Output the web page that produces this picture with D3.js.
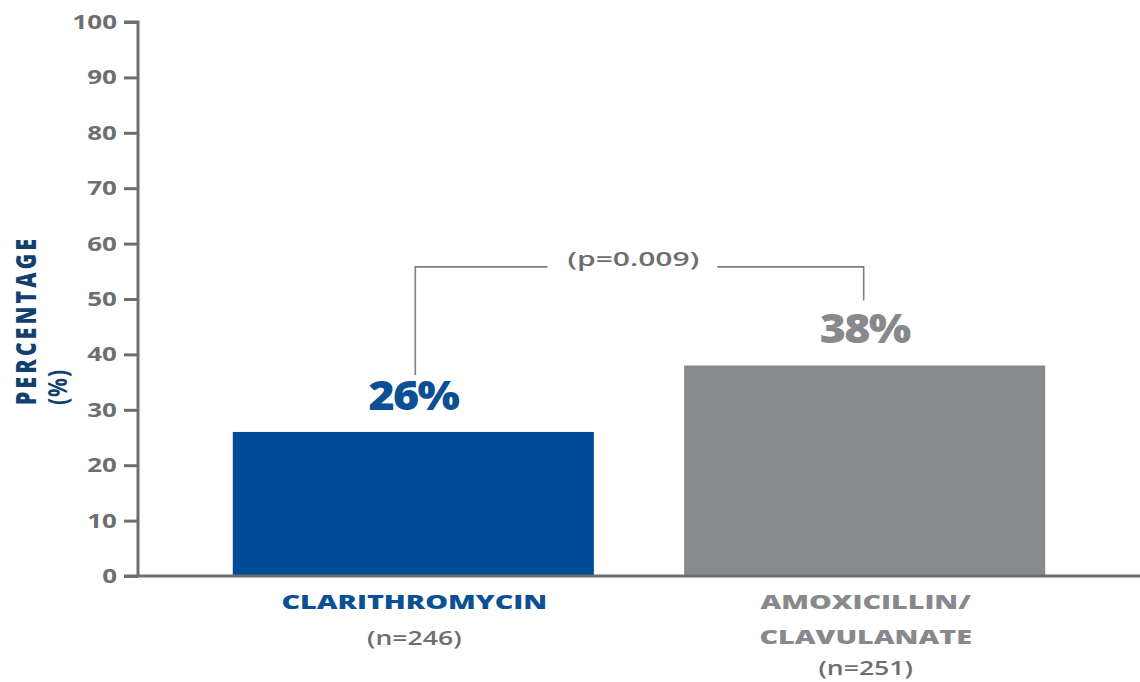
<!DOCTYPE html>
<html>
<head>
<meta charset="utf-8">
<script src="https://cdn.jsdelivr.net/npm/d3@7"></script>
<style>
  html, body { margin: 0; padding: 0; background: #fff; }
  svg { display: block; }
  text { font-family: "Open Sans", Lato, sans-serif; }
</style>
</head>
<body>
<div id="chart"></div>
<script>
// Response rates by treatment arm
const drugs = ["CLARITHROMYCIN", "AMOXICILLIN/\nCLAVULANATE"];
const sampleSizes = ["(n=246)", "(n=251)"];
const rates = [26, 38];
const barColors = ["#004c97", "#87898c"];
const labelColors = ["#0b4f95", "#87898c"];
const yTicks = [0, 10, 20, 30, 40, 50, 60, 70, 80, 90, 100];
const pValueLabel = "(p=0.009)";

const W = 1140, H = 682;
const margin = { left: 138, right: 0, top: 22, bottom: 106 };
const stretch = 1.4;          // wide lettering
const axisColor = "#6d6e71";

const svg = d3.select("#chart").append("svg")
  .attr("width", W).attr("height", H);

const x = d3.scaleBand()
  .domain(drugs)
  .range([margin.left, W - margin.right])
  .paddingInner(0.2)
  .paddingOuter(0.21);

const y = d3.scaleLinear()
  .domain([0, 100])
  .range([H - margin.bottom, margin.top]);

// Draws a horizontally widened label anchored at (px, py)
function wideText(px, py, str, opts) {
  const g = svg.append("g")
    .attr("transform", `translate(${px},${py}) scale(${opts.sx || stretch},1)`);
  return g.append("text")
    .attr("x", 0).attr("y", 0)
    .attr("text-anchor", opts.anchor || "middle")
    .attr("fill", opts.fill)
    .style("font-size", opts.size + "px")
    .style("font-weight", opts.weight)
    .style("letter-spacing", (opts.ls || 0) + "px")
    .text(str);
}

// Bars
svg.selectAll("rect.bar").data(drugs).join("rect")
  .attr("class", "bar")
  .attr("x", d => x(d))
  .attr("width", x.bandwidth())
  .attr("y", (d, i) => y(rates[i]))
  .attr("height", (d, i) => y(0) - y(rates[i]))
  .attr("fill", (d, i) => barColors[i]);

// Y axis
const yAxis = svg.append("g")
  .attr("transform", `translate(${margin.left},0)`)
  .call(d3.axisLeft(y).tickValues(yTicks).tickSize(14).tickFormat(""));
yAxis.select(".domain").attr("stroke", axisColor).attr("stroke-width", 3)
  .attr("d", `M-14,${y(100)}H0V${y(0)}`);
yAxis.selectAll(".tick line").attr("stroke", axisColor).attr("stroke-width", 3);
yTicks.forEach(t => {
  wideText(margin.left - 21, y(t) + 7, String(t), {
    anchor: "end", fill: "#6d6e71", size: 20, weight: 700, sx: 1.3
  });
});

// X axis baseline
svg.append("line")
  .attr("x1", margin.left - 14).attr("x2", W)
  .attr("y1", y(0)).attr("y2", y(0))
  .attr("stroke", axisColor).attr("stroke-width", 3);

// Y axis title
[["PERCENTAGE", 36, 800, 3.3], ["(%)", 67, 700, 1]].forEach(([str, px, wt, ls]) => {
  svg.append("g")
    .attr("transform", `translate(${px},405) scale(1.3,1) rotate(-90)`)
    .append("text")
    .attr("text-anchor", "start")
    .attr("fill", "#123f6e")
    .style("font-size", "21px")
    .style("font-weight", wt)
    .style("letter-spacing", ls + "px")
    .text(str);
});

// Value labels above bars
drugs.forEach((d, i) => {
  wideText(x(d) + x.bandwidth() / 2, y(rates[i]) - 22, rates[i] + "%", {
    fill: labelColors[i], size: 40, weight: 800, sx: 1.12, ls: -1.5
  });
});

// Category labels
drugs.forEach((d, i) => {
  const cx = x(d) + x.bandwidth() / 2 + 1;
  const lines = d.split("\n");
  lines.forEach((ln, j) => {
    wideText(cx, y(0) + 33 + j * 35, ln, {
      fill: labelColors[i], size: 18.5, weight: 800, sx: 1.55
    });
  });
  wideText(cx, y(0) + 69 + (lines.length - 1) * 30, sampleSizes[i], {
    fill: "#6d6e71", size: 19, weight: 600, sx: 1.4
  });
});

// Significance bracket
const xa = x(drugs[0]) + x.bandwidth() / 2 + 2;
const xb = x(drugs[1]) + x.bandwidth() / 2 - 1;
const yTop = y(55.8);
const bracket = svg.append("g")
  .attr("fill", "none")
  .attr("stroke", "#7d7f82")
  .attr("stroke-width", 1.6);
bracket.append("path")
  .attr("d", `M${xa},${y(rates[0]) - 57}V${yTop}H${xa + 132}`);
bracket.append("path")
  .attr("d", `M${xa + 302},${yTop}H${xb}V${y(rates[1]) - 65}`);
wideText((xa + 132 + xa + 302) / 2 + 1, yTop - 1, pValueLabel, {
  fill: "#6d6e71", size: 20, weight: 600, sx: 1.5
});
</script>
</body>
</html>
